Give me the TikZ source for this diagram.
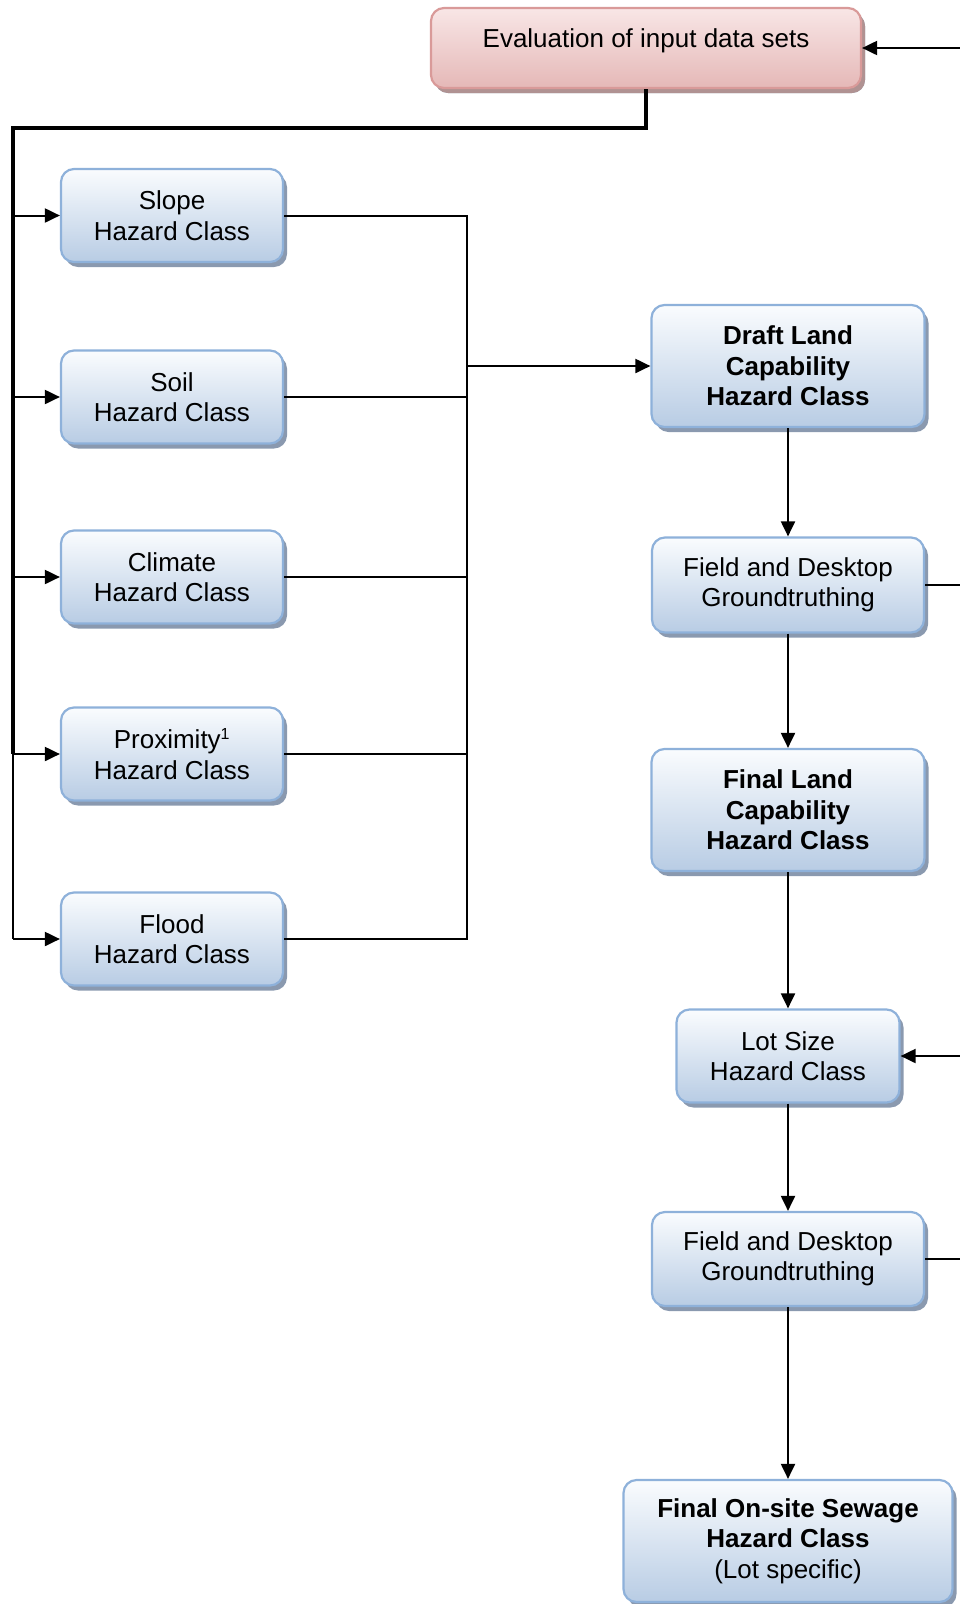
\documentclass[tikz,border=0pt]{standalone}
\usepackage{fontspec}
\setmainfont{Liberation Sans}
\usetikzlibrary{shadows,arrows.meta}
\definecolor{bluetop}{HTML}{FAFCFE}
\definecolor{bluebot}{HTML}{B8CCE4}
\definecolor{blueedge}{HTML}{8EB1DA}
\definecolor{blueshadow}{HTML}{8A99AF}
\definecolor{pinktop}{HTML}{F8E6E6}
\definecolor{pinkbot}{HTML}{E5B8B7}
\definecolor{pinkedge}{HTML}{D99A99}
\definecolor{pinkshadow}{HTML}{B09292}
\begin{document}
\begin{tikzpicture}[x=1pt,y=1pt,
  box/.style={rectangle, rounded corners=13pt, draw=blueedge, line width=2.2pt,
    top color=bluetop, bottom color=bluebot,
    drop shadow={shadow xshift=4pt, shadow yshift=-5pt, fill=blueshadow, opacity=1},
    align=center, font=\fontsize{26}{30.5}\selectfont, inner sep=0pt},
  pinkbox/.style={box, draw=pinkedge, top color=pinktop, bottom color=pinkbot,
    drop shadow={shadow xshift=4pt, shadow yshift=-5pt, fill=pinkshadow, opacity=1}},
  leftbox/.style={box, minimum width=222pt, minimum height=93pt},
  boldtext/.style={font=\fontsize{26}{30.5}\selectfont\bfseries},
  thinline/.style={line width=2pt, black},
  thickline/.style={line width=3.6pt, black},
  arr/.style={-{Triangle[length=15pt,width=14pt]}}
]
\useasboundingbox (0,0) rectangle (960,-1604);

% nodes
\node[pinkbox, minimum width=430pt, minimum height=80pt, text height=19pt, text depth=21pt]
  (top) at (646,-48) {Evaluation of input data sets};

\node[leftbox] (slope)   at (172,-215.5) {Slope\\Hazard Class};
\node[leftbox] (soil)    at (172,-397) {Soil\\Hazard Class};
\node[leftbox] (climate) at (172,-577) {Climate\\Hazard Class};
\node[leftbox] (prox)    at (172,-754) {Proximity\textsuperscript{\fontsize{16}{16}\selectfont 1}\\Hazard Class};
\node[leftbox] (flood)   at (172,-939) {Flood\\Hazard Class};

\node[box, boldtext, minimum width=273pt, minimum height=122pt]
  (draft) at (788,-366) {Draft Land\\Capability\\Hazard Class};
\node[box, minimum width=272pt, minimum height=95pt]
  (field1) at (788,-585) {Field and Desktop\\Groundtruthing};
\node[box, boldtext, minimum width=273pt, minimum height=122pt]
  (final) at (788,-810) {Final Land\\Capability\\Hazard Class};
\node[box, minimum width=223pt, minimum height=93pt]
  (lot) at (788,-1056) {Lot Size\\Hazard Class};
\node[box, minimum width=272pt, minimum height=94pt]
  (field2) at (788,-1259) {Field and Desktop\\Groundtruthing};
\node[box, minimum width=329pt, minimum height=122pt]
  (onsite) at (788,-1541) {\textbf{Final On-site Sewage}\\\textbf{Hazard Class}\\(Lot specific)};

% helper coordinates
\coordinate (Lx) at (13,-128);
\coordinate (Mx) at (467,0);
\coordinate (Rx) at (960,0);

% left distribution
\draw[thickline] (top.south) |- (Lx) -- (Lx |- prox.west);
\draw[thinline] (Lx |- prox.west) -- (Lx |- flood.west);
\foreach \n in {slope,soil,climate,prox,flood}
  \draw[thinline,arr] (Lx |- \n.west) -- (\n.west);

% merging
\draw[thinline] (slope.east) -| (Mx |- flood.east) -- (flood.east);
\foreach \n in {soil,climate,prox}
  \draw[thinline] (\n.east) -- (Mx |- \n.east);
\draw[thinline,arr] (Mx |- draft.west) -- (draft.west);

% right column
\draw[thinline,arr] (draft.south) -- (field1.north);
\draw[thinline,arr] (field1.south) -- (final.north);
\draw[thinline,arr] (final.south) -- (lot.north);
\draw[thinline,arr] (lot.south) -- (field2.north);
\draw[thinline,arr] (field2.south) -- (onsite.north);

% right edge connectors
\draw[thinline,arr] (top.east -| Rx) -- (top.east);
\draw[thinline] (field1.east) -- (field1.east -| Rx);
\draw[thinline,arr] (lot.east -| Rx) -- (lot.east);
\draw[thinline] (field2.east) -- (field2.east -| Rx);
\end{tikzpicture}
\end{document}
